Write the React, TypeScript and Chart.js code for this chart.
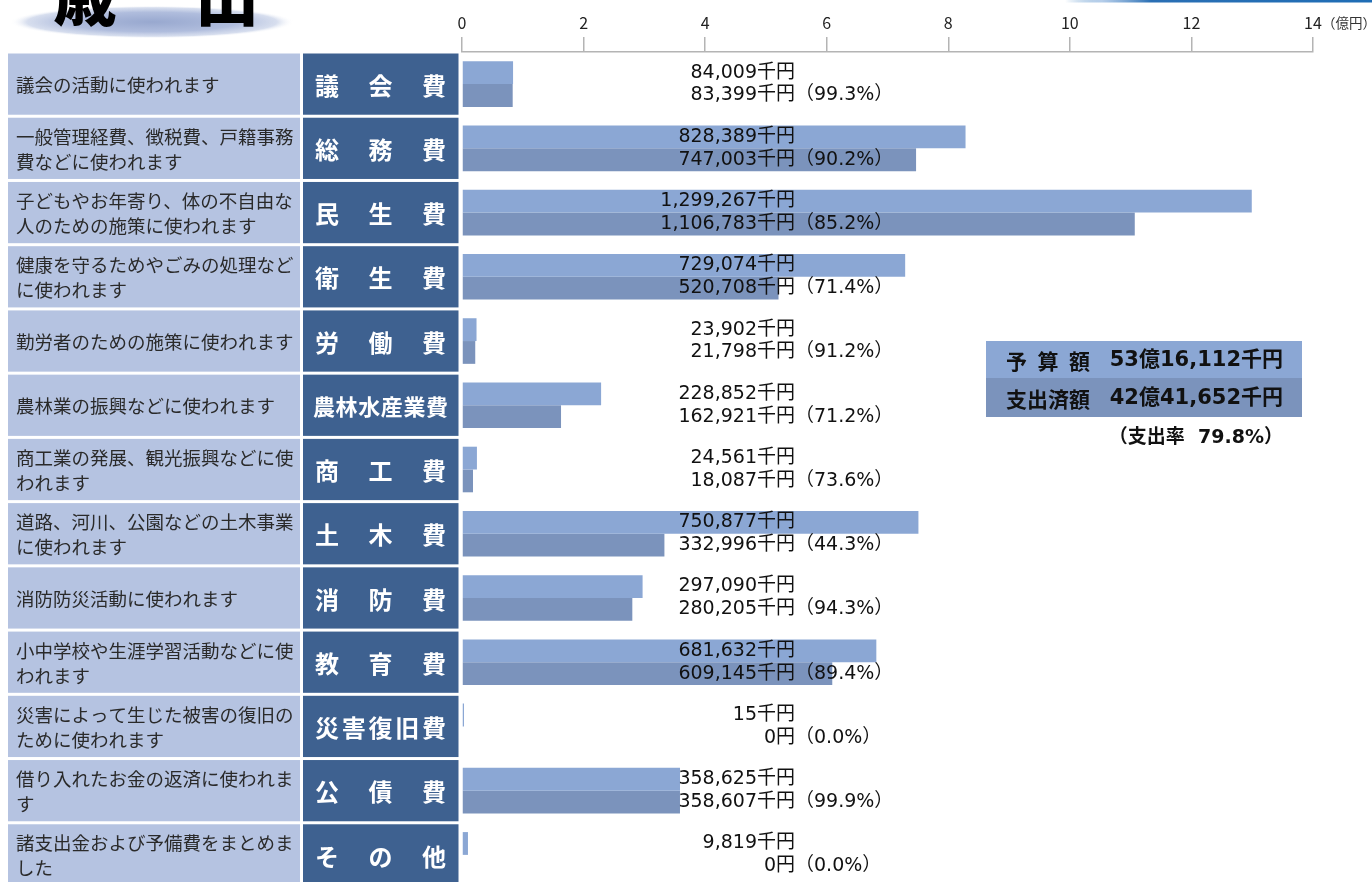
import React, { useEffect, useRef } from 'react';
import { Chart, registerables } from 'chart.js';

Chart.register(...registerables);

const categories = ['議会費', '総務費', '民生費', '衛生費', '労働費', '農林水産業費', '商工費', '土木費', '消防費', '教育費', '災害復旧費', '公債費', 'その他'];
const descriptions = [
  '議会の活動に使われます',
  '一般管理経費、徴税費、戸籍事務費などに使われます',
  '子どもやお年寄り、体の不自由な人のための施策に使われます',
  '健康を守るためやごみの処理などに使われます',
  '勤労者のための施策に使われます',
  '農林業の振興などに使われます',
  '商工業の発展、観光振興などに使われます',
  '道路、河川、公園などの土木事業に使われます',
  '消防防災活動に使われます',
  '小中学校や生涯学習活動などに使われます',
  '災害によって生じた被害の復旧のために使われます',
  '借り入れたお金の返済に使われます',
  '諸支出金および予備費をまとめました',
];
// 千円
const budget = [84009, 828389, 1299267, 729074, 23902, 228852, 24561, 750877, 297090, 681632, 15, 358625, 9819];
const spent = [83399, 747003, 1106783, 520708, 21798, 162921, 18087, 332996, 280205, 609145, 0, 358607, 0];
const rates = ['99.3', '90.2', '85.2', '71.4', '91.2', '71.2', '73.6', '44.3', '94.3', '89.4', '0.0', '99.9', '0.0'];
const totalRate = '79.8';
const titleChars = ['歳', '出'];
const legendLabels = ['予算額', '支出済額'];
const unitLabel = '（億円）';

const FONT = "'Noto Sans CJK JP', 'Noto Sans CJK SC', sans-serif";
const NUMFONT = "'DejaVu Sans', 'Noto Sans CJK JP', sans-serif";
const COL = {
  cellLight: '#b5c3e1',
  cellDark: '#3e6190',
  budget: '#8ba7d4',
  spent: '#7b93bc',
  text: '#2a2a2a',
  axis: '#b4b4b4',
};

const fmt = (n: number) => n.toLocaleString('en-US');
const yen = (n: number) => (n === 0 ? '0円' : fmt(n) + '千円');
const oku = (n: number) => `${Math.floor(n / 100000)}億${fmt(n % 100000)}千円`;
const sum = (a: number[]) => a.reduce((s, v) => s + v, 0);

function wrap(ctx: CanvasRenderingContext2D, text: string, maxW: number) {
  const lines: string[] = [];
  let cur = '';
  for (const ch of Array.from(text)) {
    if (cur && ctx.measureText(cur + ch).width > maxW) {
      lines.push(cur);
      cur = ch;
    } else cur += ch;
  }
  if (cur) lines.push(cur);
  return lines;
}

function spread(ctx: CanvasRenderingContext2D, text: string, cx: number, span: number, size: number, y: number) {
  const chars = Array.from(text);
  const n = chars.length;
  ctx.textAlign = 'center';
  if (n === 1) {
    ctx.fillText(text, cx, y);
    return;
  }
  const step = (span - size) / (n - 1);
  const start = cx - (span - size) / 2;
  chars.forEach((c, i) => ctx.fillText(c, start + i * step, y));
}

const decor = {
  id: 'decor',
  beforeDraw(chart: any) {
    const ctx: CanvasRenderingContext2D = chart.ctx;
    const ys = chart.scales.y;
    ctx.save();
    // title ellipse
    ctx.save();
    ctx.translate(152, 22);
    ctx.scale(1, 0.115);
    const g = ctx.createRadialGradient(0, 0, 0, 0, 0, 142);
    g.addColorStop(0, 'rgba(152,168,207,1)');
    g.addColorStop(0.6, 'rgba(176,189,221,1)');
    g.addColorStop(0.88, 'rgba(205,214,234,0.8)');
    g.addColorStop(1, 'rgba(255,255,255,0)');
    ctx.fillStyle = g;
    ctx.beginPath();
    ctx.arc(0, 0, 142, 0, Math.PI * 2);
    ctx.fill();
    ctx.restore();
    // title text
    ctx.fillStyle = '#000';
    ctx.font = `900 64px ${FONT}`;
    ctx.textAlign = 'center';
    ctx.textBaseline = 'alphabetic';
    ctx.fillText(titleChars[0], 85, 20);
    ctx.fillText(titleChars[1], 227, 20);
    // top-right decoration line
    const lg = ctx.createLinearGradient(1065, 0, 1372, 0);
    lg.addColorStop(0, 'rgba(31,109,181,0)');
    lg.addColorStop(0.12, 'rgba(150,185,225,0.7)');
    lg.addColorStop(0.28, '#2a6fb4');
    lg.addColorStop(1, '#1f6db5');
    ctx.fillStyle = lg;
    ctx.fillRect(1065, 0, 307, 2.5);

    // row cells
    const half = (ys.getPixelForValue(1) - ys.getPixelForValue(0)) / 2;
    categories.forEach((cat, i) => {
      const cy = ys.getPixelForValue(i);
      const top = cy - half + 1.5;
      const h = 2 * half - 3;
      ctx.fillStyle = COL.cellLight;
      ctx.fillRect(8, top, 292, h);
      ctx.fillStyle = COL.cellDark;
      ctx.fillRect(303, top, 155.5, h);
      // description
      ctx.fillStyle = COL.text;
      ctx.font = `18.5px ${FONT}`;
      ctx.textAlign = 'left';
      ctx.textBaseline = 'middle';
      const lines = wrap(ctx, descriptions[i], 285);
      lines.forEach((ln, j) => {
        ctx.fillText(ln, 16, cy + (j - (lines.length - 1) / 2) * 25 + 1);
      });
      // category name
      const n = Array.from(cat).length;
      const size = n > 5 ? 22 : 24;
      ctx.fillStyle = '#ffffff';
      ctx.font = `bold ${size}px ${FONT}`;
      spread(ctx, cat, 380.5, n > 5 ? 135 : 131, size, cy + 1.5);
    });
    ctx.restore();
  },
  afterDatasetsDraw(chart: any) {
    const ctx: CanvasRenderingContext2D = chart.ctx;
    const m0 = chart.getDatasetMeta(0);
    const m1 = chart.getDatasetMeta(1);
    const ax = chart.chartArea.left + 333;
    ctx.save();
    ctx.fillStyle = '#111';
    ctx.font = `19px ${NUMFONT}`;
    ctx.textBaseline = 'middle';
    categories.forEach((_, i) => {
      const y0 = m0.data[i].y;
      const y1 = m1.data[i].y;
      ctx.textAlign = 'right';
      ctx.fillText(yen(budget[i]), ax, y0);
      ctx.fillText(yen(spent[i]), ax, y1);
      ctx.textAlign = 'left';
      ctx.fillText(`（${rates[i]}%）`, ax, y1);
    });
    ctx.restore();
  },
  afterDraw(chart: any) {
    const ctx: CanvasRenderingContext2D = chart.ctx;
    const xs = chart.scales.x;
    ctx.save();
    // unit label
    ctx.font = `16px ${FONT}`;
    const w = ctx.measureText('14').width;
    ctx.font = `13.5px ${FONT}`;
    ctx.fillStyle = '#333';
    ctx.textAlign = 'left';
    ctx.textBaseline = 'middle';
    ctx.fillText(unitLabel, xs.getPixelForValue(14) + w / 2, 23);

    // summary box
    ctx.fillStyle = COL.budget;
    ctx.fillRect(986, 341, 316, 37);
    ctx.fillStyle = COL.spent;
    ctx.fillRect(986, 378, 316, 39);
    ctx.fillStyle = '#111';
    ctx.font = `bold 21px ${FONT}`;
    ctx.textBaseline = 'middle';
    spread(ctx, legendLabels[0], 1048, 84, 21, 361);
    spread(ctx, legendLabels[1], 1048, 84, 21, 399);
    ctx.textAlign = 'right';
    ctx.font = `bold 21px ${NUMFONT}`;
    ctx.fillText(oku(sum(budget)), 1283, 361);
    ctx.fillText(oku(sum(spent)), 1283, 399);
    ctx.font = `bold 19px ${NUMFONT}`;
    ctx.fillText(`（支出率  ${totalRate}%）`, 1283, 438);
    ctx.restore();
  },
};

export default function App() {
  const ref = useRef<HTMLCanvasElement | null>(null);
  useEffect(() => {
    if (!ref.current) return;
    const chart = new Chart(ref.current, {
      type: 'bar',
      data: {
        labels: categories,
        datasets: [
          {
            label: '予算額',
            data: budget.map((v) => v / 100000),
            backgroundColor: COL.budget,
            borderWidth: 0,
            minBarLength: 2,
            categoryPercentage: 0.71,
            barPercentage: 1,
          },
          {
            label: '支出済額',
            data: spent.map((v) => v / 100000),
            backgroundColor: COL.spent,
            borderWidth: 0,
            categoryPercentage: 0.71,
            barPercentage: 1,
          },
        ],
      },
      options: {
        indexAxis: 'y',
        animation: false,
        responsive: false,
        devicePixelRatio: 1,
        layout: { padding: { left: 462, right: 59, top: 0, bottom: 0 } },
        plugins: { legend: { display: false }, tooltip: { enabled: false } },
        scales: {
          x: {
            position: 'top',
            min: 0,
            max: 14,
            ticks: {
              stepSize: 2,
              color: '#222',
              padding: 4,
              font: { family: FONT, size: 16 },
            },
            grid: {
              drawOnChartArea: false,
              drawTicks: true,
              tickLength: 15,
              color: COL.axis,
              lineWidth: 1.5,
            },
            border: { display: true, color: COL.axis, width: 1.5 },
            afterFit: (scale: any) => {
              scale.height = 52;
            },
          },
          y: {
            display: false,
          },
        },
      },
      plugins: [decor],
    } as any);
    return () => chart.destroy();
  }, []);
  return (
    <div style={{ position: 'fixed', left: 0, top: 0, width: 1372, height: 882, overflow: 'hidden', background: '#fff' }}>
      <canvas ref={ref} width={1372} height={887} style={{ display: 'block' }} />
    </div>
  );
}
